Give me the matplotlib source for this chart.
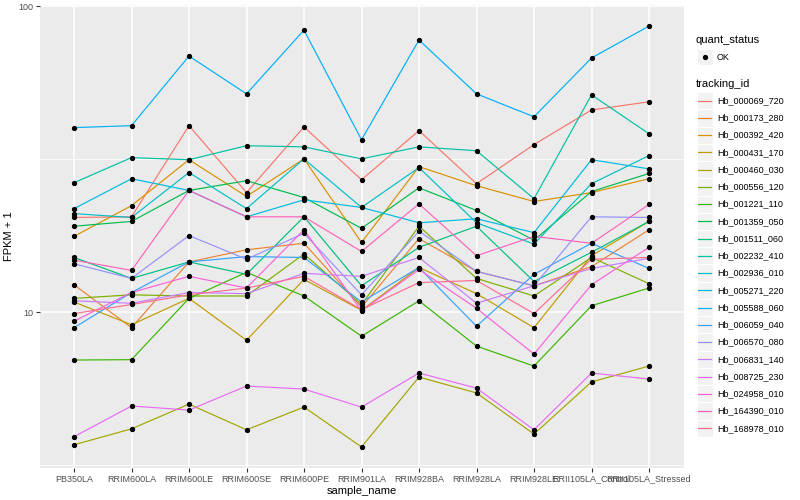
import numpy as np
import matplotlib
matplotlib.use('Agg')
import matplotlib.pyplot as plt
from matplotlib.patches import Rectangle
from matplotlib.lines import Line2D
from matplotlib.ticker import FixedLocator, FixedFormatter, NullFormatter

plt.rcParams['font.family'] = ['Liberation Sans', 'DejaVu Sans']

samples = ['PB350LA', 'RRIM600LA', 'RRIM600LE', 'RRIM600SE', 'RRIM600PE', 'RRIM901LA',
           'RRIM928BA', 'RRIM928LA', 'RRIM928LE', 'RRII105LA_Control', 'RRII105LA_Stressed']

# FPKM + 1 per gene, one value per sample
hb_000069_720 = [20.4, 20.5, 40.7, 24.6, 40.3, 27.1, 39.2, 26.3, 35.3, 45.8, 48.7]
hb_000173_280 = [12.3, 8.9, 14.6, 16.0, 16.8, 10.4, 17.4, 13.6, 12.2, 14.1, 18.6]
hb_000392_420 = [17.7, 22.3, 31.5, 23.9, 31.7, 16.9, 29.9, 25.9, 23.0, 24.6, 27.3]
hb_000431_170 = [10.8, 9.1, 11.1, 8.1, 12.8, 10.15, 14.0, 11.5, 8.9, 15.3, 19.8]
hb_000460_030 = [3.69, 4.16, 5.01, 4.13, 4.90, 3.63, 6.14, 5.45, 4.00, 5.92, 6.67]
hb_000556_120 = [11.1, 11.4, 11.3, 11.3, 15.5, 10.6, 19.1, 12.9, 11.3, 15.1, 12.4]
hb_001221_110 = [6.98, 7.0, 11.1, 13.5, 11.3, 8.35, 10.9, 7.75, 6.67, 10.5, 12.0]
hb_001359_050 = [19.1, 19.8, 25.0, 26.9, 23.7, 18.8, 25.5, 21.5, 17.2, 24.8, 28.4]
hb_001511_060 = [15.1, 12.9, 14.6, 13.3, 20.5, 12.2, 16.3, 19.1, 12.6, 15.7, 19.8]
hb_002232_410 = [26.5, 32.0, 31.5, 35.0, 34.7, 31.7, 34.7, 33.7, 23.5, 51.3, 38.3]
hb_002936_010 = [21.0, 20.4, 28.6, 21.8, 31.7, 22.0, 29.7, 19.6, 16.7, 26.3, 32.5]
hb_005271_220 = [21.8, 27.3, 25.0, 20.5, 23.3, 22.0, 19.6, 20.2, 18.2, 31.5, 29.4]
hb_005588_060 = [40.1, 40.7, 68.7, 51.7, 83.5, 36.6, 77.5, 51.7, 43.5, 67.7, 86.1]
hb_006059_040 = [8.9, 11.6, 14.6, 15.2, 15.1, 10.8, 14.0, 9.0, 13.3, 16.8, 13.9]
hb_006570_080 = [14.4, 12.9, 17.8, 14.9, 18.1, 11.4, 18.4, 13.6, 12.2, 20.5, 20.4]
hb_006831_140 = [10.9, 10.7, 11.6, 11.5, 13.4, 13.1, 15.1, 10.7, 12.2, 13.9, 15.0]
hb_008725_230 = [3.92, 4.94, 4.79, 5.74, 5.61, 4.90, 6.33, 5.65, 4.13, 6.33, 6.05]
hb_024958_010 = [9.35, 11.6, 13.1, 12.0, 18.6, 10.1, 13.8, 10.3, 7.3, 12.3, 16.3]
hb_164390_010 = [14.8, 13.7, 25.0, 20.5, 20.5, 15.8, 22.6, 15.3, 17.7, 16.8, 22.5]
hb_168978_010 = [9.9, 10.6, 11.4, 12.0, 13.1, 10.2, 12.5, 12.7, 9.9, 14.9, 15.1]

tracking_ids = ['Hb_000069_720', 'Hb_000173_280', 'Hb_000392_420', 'Hb_000431_170',
                'Hb_000460_030', 'Hb_000556_120', 'Hb_001221_110', 'Hb_001359_050',
                'Hb_001511_060', 'Hb_002232_410', 'Hb_002936_010', 'Hb_005271_220',
                'Hb_005588_060', 'Hb_006059_040', 'Hb_006570_080', 'Hb_006831_140',
                'Hb_008725_230', 'Hb_024958_010', 'Hb_164390_010', 'Hb_168978_010']
series = [hb_000069_720, hb_000173_280, hb_000392_420, hb_000431_170, hb_000460_030,
          hb_000556_120, hb_001221_110, hb_001359_050, hb_001511_060, hb_002232_410,
          hb_002936_010, hb_005271_220, hb_005588_060, hb_006059_040, hb_006570_080,
          hb_006831_140, hb_008725_230, hb_024958_010, hb_164390_010, hb_168978_010]

# ggplot hue palette, 20 levels
palette = ['#F8766D', '#EA8331', '#D89000', '#C09B00', '#A3A500', '#7CAE00', '#39B600',
           '#00BB4E', '#00BF7D', '#00C1A3', '#00BFC4', '#00BAE0', '#00B0F6', '#35A2FF',
           '#9590FF', '#C77CFF', '#E76BF3', '#FA62DB', '#FF62BC', '#FF6C91']

fig = plt.figure(figsize=(8, 5), dpi=100)
ax = fig.add_axes([39.5/800, 1-468/500, (683.5-39.5)/800, (468-5)/500])
ax.set_facecolor('#EBEBEB')
for s in ax.spines.values():
    s.set_visible(False)

xs = np.arange(len(samples))
for vals, col in zip(series, palette):
    ax.plot(xs, vals, color=col, lw=0.85, zorder=3)
for vals in series:
    ax.plot(xs, vals, ls='none', marker='o', ms=2.8, color='black', zorder=4)

ax.set_yscale('log')
allv = np.log10(np.concatenate([np.array(v) for v in series]))
lo, hi = allv.min(), allv.max()
pad = 0.05*(hi-lo)
ax.set_ylim(10**(lo-pad), 10**(hi+pad))
ax.set_xlim(-0.6, len(samples)-0.4)
ax.yaxis.set_major_locator(FixedLocator([10, 100]))
ax.yaxis.set_major_formatter(FixedFormatter(['10', '100']))
ax.yaxis.set_minor_locator(FixedLocator([10**0.5, 10**1.5]))
ax.yaxis.set_minor_formatter(NullFormatter())
ax.set_xticks(xs)
ax.set_xticklabels(samples)
ax.grid(True, which='major', color='white', lw=1.1, zorder=1)
ax.grid(True, which='minor', axis='y', color='white', lw=0.55, zorder=1)
ax.set_axisbelow(True)
ax.tick_params(axis='both', which='major', length=2.75, width=0.8, color='#333333',
               labelsize=6.5, labelcolor='#4D4D4D', pad=2)
ax.tick_params(axis='y', which='minor', length=0)
ax.set_xlabel('sample_name', fontsize=8, labelpad=2)
ax.set_ylabel('FPKM + 1', fontsize=8, labelpad=3)

# legends, drawn ggplot style
def px(x, y):
    return x/800, 1-y/500

fig.text(*px(696, 40), 'quant_status', fontsize=8, va='center', ha='left')
kx, kw = 696.5, 16
fig.patches.append(Rectangle(px(kx, 49+kw), kw/800, kw/500, transform=fig.transFigure,
                             facecolor='#F2F2F2', edgecolor='white', lw=0.8))
fig.lines.append(Line2D([px(705, 57)[0]], [px(705, 57)[1]], transform=fig.transFigure,
                        marker='o', ms=2.8, color='black', ls='none'))
fig.text(*px(717, 57), 'OK', fontsize=6.5, va='center', ha='left')

fig.text(*px(696, 84), 'tracking_id', fontsize=8, va='center', ha='left')
row0, step = 100.7, 17.24
for i, (name, col) in enumerate(zip(tracking_ids, palette)):
    yc = row0 + i*step
    fig.patches.append(Rectangle(px(kx, yc+step/2), kw/800, step/500, transform=fig.transFigure,
                                 facecolor='#F2F2F2', edgecolor='white', lw=0.8))
    a, b = px(kx+1.5, yc)
    c, _ = px(kx+kw-1.5, yc)
    fig.lines.append(Line2D([a, c], [b, b], transform=fig.transFigure, color=col, lw=0.9))
    fig.text(*px(717, yc), name, fontsize=6.5, va='center', ha='left')

fig.savefig('out.png', dpi=100)
